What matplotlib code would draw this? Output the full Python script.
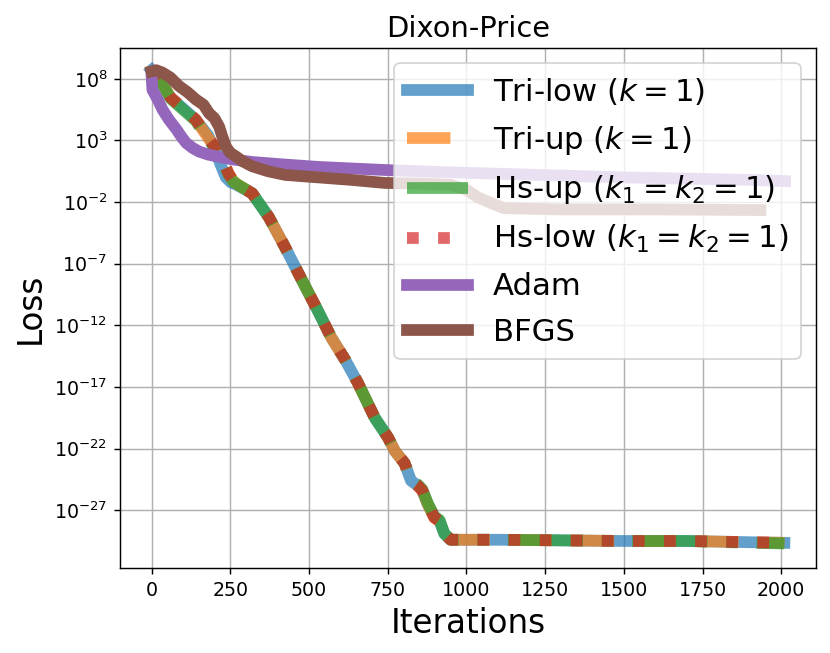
import numpy as np
import matplotlib
matplotlib.use("Agg")
import matplotlib.pyplot as plt

# iterations / loss (loss as powers of ten)
tri_low_it = [0, 30, 60, 100, 140, 180, 205, 220, 236, 252, 270, 320, 372, 425, 477, 530, 571,
              615, 656, 709, 751, 773, 804, 824, 845, 860, 877, 898, 915, 930, 950, 1100, 1300,
              1500, 1700, 1900, 2010]
tri_low_lg = [8.7, 7.8, 6.5, 5.6, 4.7, 3.4, 2.0, 1.0, 0.0, -0.4, -0.6, -1.3, -3.2, -5.7, -8.3,
              -10.9, -13.0, -14.8, -16.7, -19.5, -21.1, -22.2, -23.2, -24.6, -25.0, -25.4, -26.5,
              -27.5, -27.9, -28.9, -29.4, -29.4, -29.45, -29.5, -29.5, -29.6, -29.65]

tri_up_it = [0, 30, 60, 100, 140, 180, 210, 230, 245, 260, 275, 320, 372, 425, 477, 530, 571,
             615, 656, 709, 751, 773, 804, 824, 845, 860, 877, 898, 915, 930, 950, 1100, 1300,
             1500, 1700, 1900, 2010]
tri_up_lg = [8.7, 7.8, 6.5, 5.6, 4.7, 3.2, 2.2, 1.2, 0.3, -0.3, -0.6, -1.3, -3.2, -5.7, -8.3,
             -10.9, -13.0, -14.8, -16.7, -19.5, -21.1, -22.2, -23.2, -24.6, -25.0, -25.4, -26.5,
             -27.6, -27.9, -28.9, -29.4, -29.4, -29.45, -29.5, -29.5, -29.6, -29.65]

hs_up_it = tri_up_it
hs_up_lg = [8.7, 7.8, 6.4, 5.5, 4.6, 3.1, 2.1, 1.1, 0.2, -0.35, -0.6, -1.3, -3.2, -5.7, -8.3,
            -10.9, -13.0, -14.8, -16.7, -19.5, -21.1, -22.2, -23.2, -24.6, -24.9, -25.3, -26.4,
            -27.5, -27.8, -28.9, -29.4, -29.4, -29.45, -29.5, -29.5, -29.65, -29.7]

hs_low_it = tri_up_it
hs_low_lg = tri_up_lg

adam_it = [0, 3, 20, 35, 55, 79, 95, 110, 130, 151, 180, 215, 260, 320, 420, 530, 640, 741,
           900, 1100, 1300, 1500, 1700, 1900, 2012]
adam_lg = [8.3, 7.1, 6.3, 5.5, 4.7, 3.9, 3.3, 2.8, 2.4, 2.1, 1.85, 1.66, 1.45, 1.25, 1.05, 0.85,
           0.72, 0.6, 0.45, 0.3, 0.15, 0.0, -0.1, -0.2, -0.3]

bfgs_it = [0, 15, 35, 60, 88, 115, 142, 165, 183, 200, 215, 225, 236, 250, 268, 290, 320, 370,
           425, 530, 634, 741, 850, 950, 1000, 1035, 1080, 1120, 1300, 1600, 1934]
bfgs_lg = [8.6, 8.7, 8.5, 8.1, 7.4, 6.9, 6.3, 5.9, 5.2, 4.8, 4.1, 3.3, 2.5, 2.0, 1.7, 1.3, 0.9,
           0.5, 0.2, 0.0, -0.2, -0.45, -0.5, -0.6, -1.0, -1.6, -2.1, -2.5, -2.6, -2.6, -2.65]

labels = [r"Tri-low ($k=1$)", r"Tri-up ($k=1$)", r"Hs-up ($k_1=k_2=1$)",
          r"Hs-low ($k_1=k_2=1$)", "Adam", "BFGS"]

fig = plt.figure(figsize=(830 / 130, 653 / 130), dpi=130)
ax = fig.add_subplot(111)
fig.subplots_adjust(left=0.1446, right=0.983, top=0.9265, bottom=0.130)

lw = 6.5
series = [(tri_low_it, tri_low_lg, "-"), (tri_up_it, tri_up_lg, "--"),
          (hs_up_it, hs_up_lg, "-."), (hs_low_it, hs_low_lg, ":"),
          (adam_it, adam_lg, "-"), (bfgs_it, bfgs_lg, "-")]
colors = ["tab:blue", "tab:orange", "tab:green", "tab:red", "tab:purple", "tab:brown"]
alphas = [0.7, 0.7, 0.7, 0.7, 1.0, 1.0]
for (it, lg, ls), c, a, lab in zip(series, colors, alphas, labels):
    ax.plot(it, 10.0 ** np.array(lg), ls, color=c, lw=lw, alpha=a, label=lab)

ax.set_yscale("log")
ax.set_ylim(10 ** -31.7, 10 ** 10.5)
ax.set_xlim(-100, 2110)
ax.set_xticks([0, 250, 500, 750, 1000, 1250, 1500, 1750, 2000])
ax.set_yticks([10.0 ** p for p in [8, 3, -2, -7, -12, -17, -22, -27]])
ax.minorticks_off()
ax.grid(True)
ax.tick_params(labelsize=10.5)
ax.set_title("Dixon-Price", fontsize=16)
ax.set_xlabel("Iterations", fontsize=18)
ax.set_ylabel("Loss", fontsize=18)
ax.legend(loc="upper right", fontsize=17, labelspacing=0.55)

fig.savefig("out.png", dpi=130)
